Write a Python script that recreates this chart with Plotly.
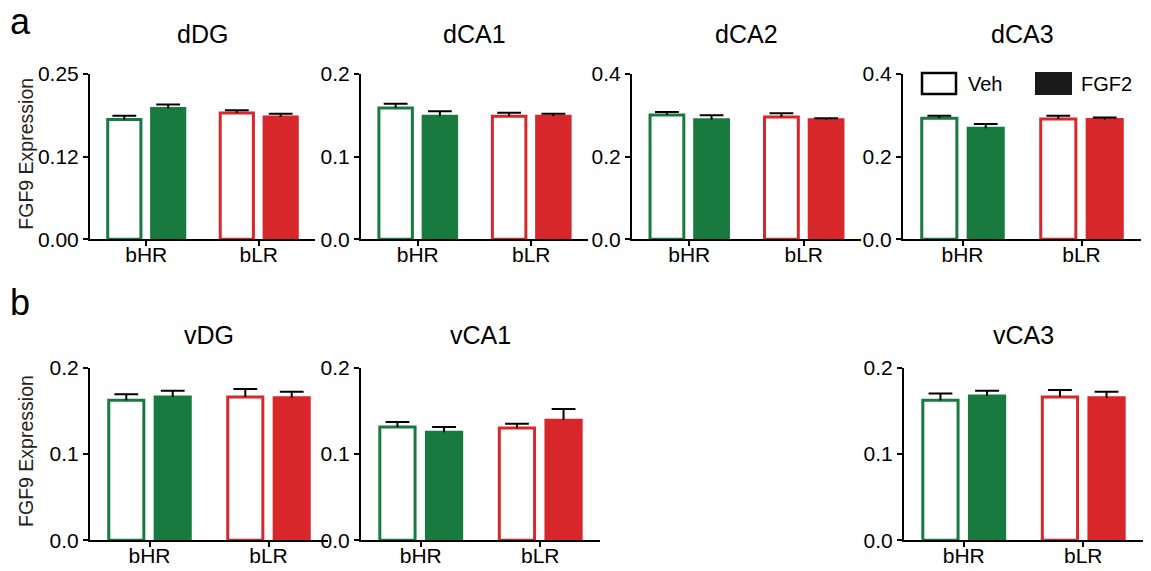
import plotly.graph_objects as go

# ---------------- data ----------------
groups = ["bHR", "bLR"]
panels = ["dDG", "dCA1", "dCA2", "dCA3", "vDG", "vCA1", "vCA3"]

veh_mean = {
    "dDG": [0.181, 0.191], "dCA1": [0.159, 0.149], "dCA2": [0.301, 0.296], "dCA3": [0.293, 0.291],
    "vDG": [0.162, 0.166], "vCA1": [0.131, 0.130], "vCA3": [0.162, 0.166],
}
veh_sem = {
    "dDG": [0.006, 0.004], "dCA1": [0.005, 0.004], "dCA2": [0.007, 0.009], "dCA3": [0.006, 0.008],
    "vDG": [0.007, 0.009], "vCA1": [0.006, 0.005], "vCA3": [0.008, 0.008],
}
fgf2_mean = {
    "dDG": [0.198, 0.185], "dCA1": [0.149, 0.149], "dCA2": [0.289, 0.289], "dCA3": [0.269, 0.290],
    "vDG": [0.166, 0.165], "vCA1": [0.125, 0.139], "vCA3": [0.167, 0.165],
}
fgf2_sem = {
    "dDG": [0.006, 0.005], "dCA1": [0.006, 0.003], "dCA2": [0.011, 0.004], "dCA3": [0.010, 0.005],
    "vDG": [0.007, 0.007], "vCA1": [0.006, 0.013], "vCA3": [0.006, 0.007],
}
y_max = {"dDG": 0.25, "dCA1": 0.2, "dCA2": 0.4, "dCA3": 0.4, "vDG": 0.2, "vCA1": 0.2, "vCA3": 0.2}
tick_vals = {
    "dDG": [0, 0.125, 0.25], "dCA1": [0, 0.1, 0.2], "dCA2": [0, 0.2, 0.4], "dCA3": [0, 0.2, 0.4],
    "vDG": [0, 0.1, 0.2], "vCA1": [0, 0.1, 0.2], "vCA3": [0, 0.1, 0.2],
}
tick_text = {
    "dDG": ["0.00", "0.12", "0.25"], "dCA1": ["0.0", "0.1", "0.2"], "dCA2": ["0.0", "0.2", "0.4"],
    "dCA3": ["0.0", "0.2", "0.4"], "vDG": ["0.0", "0.1", "0.2"], "vCA1": ["0.0", "0.1", "0.2"],
    "vCA3": ["0.0", "0.1", "0.2"],
}
y_title = "FGF9 Expression"
legend_labels = ["Veh", "FGF2"]

# ---------------- layout / style ----------------
W, H = 1151, 571
GREEN = "#187a3f"
RED = "#d8272b"
grp_colors = [GREEN, RED]
FONT = "Liberation Sans, Arial, Helvetica, sans-serif"
SHIFT = 0.195      # half-distance between the two bars of a group (axis units)
BAR_W = 0.295      # bar width (axis units)
CAP = 17           # error-bar cap length in px

# pixel boxes (x0, x1, ytop, ybottom) of each panel
boxes = {
    "dDG": (90, 315, 74, 239.3), "dCA1": (361, 588, 74, 239.3),
    "dCA2": (632, 861, 74, 239.3), "dCA3": (903, 1141, 74, 239.3),
    "vDG": (90, 328, 367.5, 540.3), "vCA1": (361, 600, 367.5, 540.3),
    "vCA3": (904, 1143, 367.5, 540.3),
}

fig = go.Figure()
layout = dict(
    width=W, height=H, autosize=False,
    margin=dict(l=0, r=0, t=0, b=0, pad=0, autoexpand=False),
    paper_bgcolor="white", plot_bgcolor="white",
    font=dict(family=FONT, color="black"),
    barmode="overlay",
    showlegend=False,
)
annotations = []
shapes = []
pos = list(range(len(groups)))

for i, p in enumerate(panels, start=1):
    xa = "x" if i == 1 else f"x{i}"
    ya = "y" if i == 1 else f"y{i}"
    x0, x1, yt, yb = boxes[p]
    stem = dict(type="data", symmetric=False, arrayminus=[0] * len(groups),
                color="black", thickness=2, width=0)
    for k, (means, sems, fill, sgn) in enumerate([
        (veh_mean[p], veh_sem[p], ["white"] * len(groups), -1),
        (fgf2_mean[p], fgf2_sem[p], grp_colors, 1),
    ]):
        fig.add_trace(go.Bar(
            x=pos, y=means, xaxis=xa, yaxis=ya, name=legend_labels[k],
            width=BAR_W, offset=(sgn * SHIFT) - BAR_W / 2,
            marker=dict(color=fill, line=dict(color=grp_colors, width=3)),
            error_y=dict(array=sems, **stem),
        ))
        # error-bar caps (upper only)
        fig.add_trace(go.Scatter(
            x=[g + sgn * SHIFT for g in pos],
            y=[m + s for m, s in zip(means, sems)],
            xaxis=xa, yaxis=ya, mode="markers", hoverinfo="skip",
            marker=dict(symbol="line-ew", size=CAP, line=dict(color="black", width=2)),
        ))
    xkey = "xaxis" if i == 1 else f"xaxis{i}"
    ykey = "yaxis" if i == 1 else f"yaxis{i}"
    layout[xkey] = dict(
        domain=[x0 / W, x1 / W], anchor=ya, range=[-0.5, 1.5],
        tickvals=pos, ticktext=groups, automargin=False, ticklabelstandoff=-10,
        showline=True, linecolor="black", linewidth=2,
        ticks="outside", ticklen=5, tickwidth=2, tickcolor="black",
        showgrid=False, zeroline=False, tickfont=dict(size=21, family=FONT),
        fixedrange=True,
    )
    layout[ykey] = dict(
        domain=[1 - yb / H, 1 - yt / H], anchor=xa, range=[0, y_max[p]],
        tickvals=tick_vals[p], ticktext=tick_text[p], automargin=False,
        showline=True, linecolor="black", linewidth=2,
        ticks="outside", ticklen=5, tickwidth=2, tickcolor="black",
        showgrid=False, zeroline=False, tickfont=dict(size=21, family=FONT),
        fixedrange=True,
    )
    # panel title
    title_y = 34 if yt < 200 else 335
    annotations.append(dict(
        text=p, x=(x0 + x1) / 2 / W, y=1 - title_y / H, xref="paper", yref="paper",
        xanchor="center", yanchor="middle", showarrow=False,
        font=dict(size=25, family=FONT, color="black"),
    ))

# y-axis titles (left column)
for (yt, yb) in [(74, 239.3), (367.5, 540.3)]:
    annotations.append(dict(
        text=y_title, x=26 / W, y=1 - ((yt + yb) / 2 - 3) / H, xref="paper", yref="paper",
        xanchor="center", yanchor="middle", textangle=-90, showarrow=False,
        font=dict(size=19.5, family=FONT, color="#222"),
    ))

# panel letters
annotations.append(dict(text="a", x=8 / W, y=1 - 22 / H, xref="paper", yref="paper",
                        xanchor="left", yanchor="middle", showarrow=False,
                        font=dict(size=36, family=FONT, color="black")))
annotations.append(dict(text="b", x=8 / W, y=1 - 302 / H, xref="paper", yref="paper",
                        xanchor="left", yanchor="middle", showarrow=False,
                        font=dict(size=36, family=FONT, color="black")))

# legend (drawn in the dCA3 panel)
shapes.append(dict(type="rect", xref="paper", yref="paper",
                   x0=922 / W, x1=956 / W, y0=1 - 94 / H, y1=1 - 73 / H,
                   line=dict(color="black", width=2.5), fillcolor="white"))
shapes.append(dict(type="rect", xref="paper", yref="paper",
                   x0=1035 / W, x1=1072 / W, y0=1 - 95 / H, y1=1 - 72 / H,
                   line=dict(color="#1a1a1a", width=0), fillcolor="#1a1a1a"))
annotations.append(dict(text=legend_labels[0], x=966 / W, y=1 - 84 / H, xref="paper", yref="paper",
                        xanchor="left", yanchor="middle", showarrow=False,
                        font=dict(size=20, family=FONT, color="black")))
annotations.append(dict(text=legend_labels[1], x=1079 / W, y=1 - 84 / H, xref="paper", yref="paper",
                        xanchor="left", yanchor="middle", showarrow=False,
                        font=dict(size=20, family=FONT, color="black")))

layout["annotations"] = annotations
layout["shapes"] = shapes
fig.update_layout(**layout)

fig.write_html("out.html", config={"displayModeBar": False})
